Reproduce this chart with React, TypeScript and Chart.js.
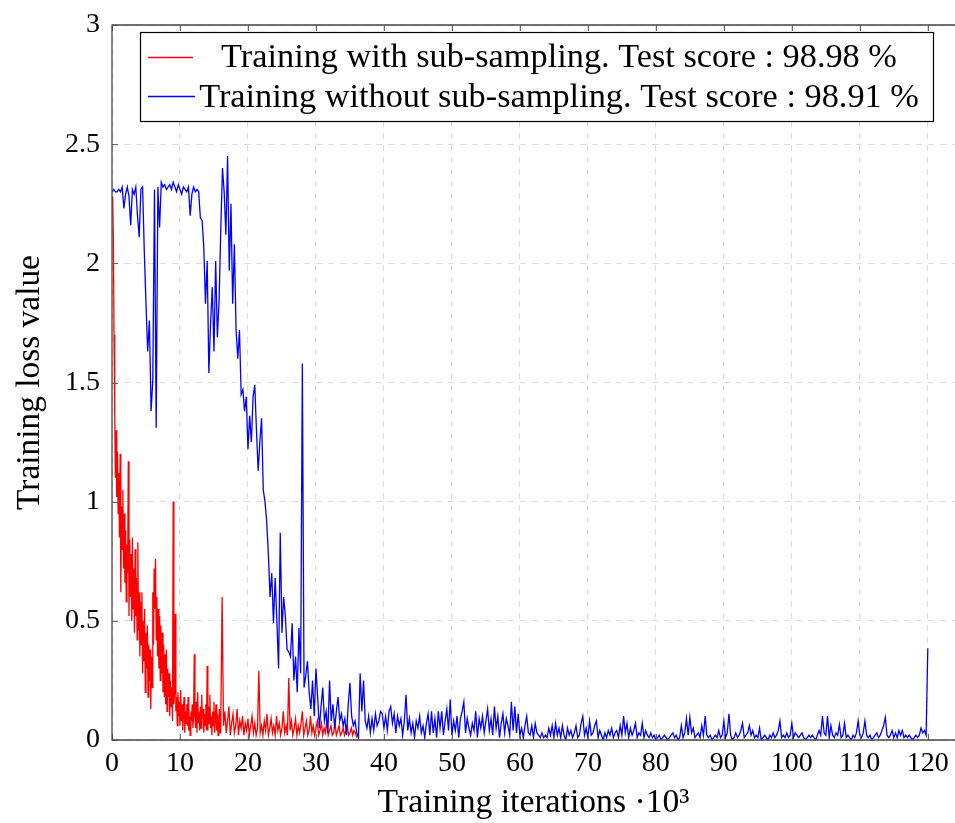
import React, { useEffect, useRef } from "react";
import { Chart, registerables } from "chart.js";

Chart.register(...registerables);

const FONT = '"Liberation Serif", "Times New Roman", serif';

// ---- text ----
const legendLabels = [
  "Training with sub-sampling. Test score : 98.98 %",
  "Training without sub-sampling. Test score : 98.91 %",
];
const xAxisTitle = "Training iterations ·10³";
const yAxisTitle = "Training loss value";

// ---- ticks ----
const xTickValues = [0, 10, 20, 30, 40, 50, 60, 70, 80, 90, 100, 110, 120];
const yTickValues = [0, 0.5, 1, 1.5, 2, 2.5, 3];
const xMax = 124;
const yMax = 3;

// ---- red series: training with sub-sampling (iterations in thousands) ----
const redSegmentStartsK = [0.1, 16.2];
const redSegmentStepsK = [0.1, 0.2];
const redLoss0to16 = [
  2.28, 2.1, 1.7, 1.37, 1.1, 1.3, 1.02, 1.21, 0.95, 1.12,
  0.85, 1.2, 0.62, 0.98, 0.8, 1.05, 0.72, 0.95, 0.66, 0.88,
  0.58, 0.82, 0.7, 1.17, 0.52, 0.84, 0.6, 0.78, 0.5, 0.85,
  0.55, 0.72, 0.45, 0.8, 0.52, 0.68, 0.42, 0.83, 0.46, 0.62,
  0.35, 0.58, 0.4, 0.62, 0.28, 0.5, 0.33, 0.55, 0.2, 0.45,
  0.3, 0.48, 0.18, 0.4, 0.25, 0.38, 0.13, 0.35, 0.22, 0.62,
  0.4, 0.72, 0.55, 0.76, 0.42, 0.6, 0.35, 0.55, 0.3, 0.52,
  0.25, 0.48, 0.28, 0.45, 0.2, 0.4, 0.18, 0.36, 0.15, 0.38,
  0.12, 0.3, 0.18, 0.28, 0.1, 0.25, 0.14, 0.22, 0.08, 1.0,
  0.15, 0.2, 0.53, 0.12, 0.18, 0.06, 0.2, 0.1, 0.16, 0.06,
  0.21, 0.08, 0.15, 0.04, 0.12, 0.18, 0.03, 0.12, 0.07, 0.15,
  0.06, 0.18, 0.04, 0.1, 0.02, 0.12, 0.08, 0.15, 0.05, 0.1,
  0.36, 0.1, 0.05, 0.16, 0.03, 0.2, 0.07, 0.12, 0.04, 0.14,
  0.05, 0.19, 0.09, 0.13, 0.03, 0.11, 0.06, 0.15, 0.04, 0.31,
  0.04, 0.14, 0.07, 0.19, 0.05, 0.1, 0.02, 0.12, 0.06, 0.16,
  0.03, 0.09, 0.15, 0.04, 0.11, 0.02, 0.08, 0.13, 0.03, 0.07,
];
const redLoss16to36 = [
  0.6, 0.06, 0.12, 0.03, 0.08, 0.14, 0.02, 0.07, 0.11, 0.03,
  0.06, 0.13, 0.02, 0.08, 0.05, 0.1, 0.02, 0.07, 0.04, 0.09,
  0.02, 0.06, 0.1, 0.03, 0.07, 0.02, 0.05, 0.29, 0.03, 0.06,
  0.02, 0.08, 0.04, 0.11, 0.02, 0.05, 0.09, 0.03, 0.06, 0.02,
  0.1, 0.04, 0.07, 0.02, 0.05, 0.12, 0.03, 0.06, 0.02, 0.26,
  0.04, 0.08, 0.02, 0.05, 0.09, 0.02, 0.06, 0.03, 0.07, 0.12,
  0.02, 0.05, 0.08, 0.02, 0.04, 0.1, 0.03, 0.06, 0.02, 0.05,
  0.08, 0.02, 0.04, 0.07, 0.02, 0.05, 0.03, 0.08, 0.02, 0.04,
  0.06, 0.02, 0.03, 0.07, 0.02, 0.04, 0.06, 0.02, 0.03, 0.05,
  0.02, 0.04, 0.06, 0.02, 0.03, 0.05, 0.02, 0.04, 0.03, 0.01,
];
const redSegments = [redLoss0to16, redLoss16to36];

// ---- blue series: training without sub-sampling, in segments ----
const blueStepK = 0.25;
const blueSegmentStartsK = [0, 20.25, 38.25, 60.25, 80.25];
const blueLoss0to20 = [
  2.3, 2.31, 2.3, 2.3, 2.31, 2.3, 2.32, 2.23, 2.29, 2.32,
  2.28, 2.16, 2.31, 2.29, 2.32, 2.2, 2.11, 2.31, 2.32, 2.05,
  1.83, 1.63, 1.76, 1.38, 1.51, 2.31, 1.31, 2.32, 2.15, 2.34,
  2.32, 2.33, 2.31, 2.32, 2.33, 2.31, 2.34, 2.32, 2.3, 2.33,
  2.31, 2.29, 2.32, 2.31, 2.3, 2.32, 2.2, 2.29, 2.32, 2.3,
  2.31, 2.3, 2.19, 2.18, 2.07, 1.83, 2.01, 1.54, 1.75, 1.9,
  1.63, 2.01, 1.69, 1.84, 2.14, 2.4, 2.3, 2.12, 2.45, 1.97,
  2.25, 1.83, 2.08, 1.72, 1.6, 1.72, 1.45, 1.47, 1.38, 1.44,
  1.22,
];
const blueLoss20to38 = [
  1.36, 1.25, 1.44, 1.49, 1.3, 1.13, 1.25, 1.35, 1.05, 1.0,
  0.92, 0.78, 0.6, 0.7, 0.49, 0.68, 0.5, 0.3, 0.87, 0.45,
  0.6, 0.52, 0.38, 0.37, 0.35, 0.49, 0.25, 0.35, 0.2, 0.47,
  0.28, 1.58, 0.22, 0.27, 0.33, 0.2, 0.13, 0.25, 0.1, 0.3,
  0.18, 0.05, 0.14, 0.22, 0.08, 0.12, 0.03, 0.25, 0.08, 0.15,
  0.05, 0.12, 0.18, 0.08, 0.11, 0.06, 0.09, 0.02, 0.15, 0.24,
  0.1, 0.06, 0.08, 0.03, 0.01, 0.28, 0.12, 0.25, 0.08, 0.05,
  0.1, 0.03,
];
const blueLoss38to60 = [
  0.09, 0.04, 0.11, 0.06, 0.08, 0.12, 0.11, 0.05, 0.1, 0.04,
  0.12, 0.14, 0.07, 0.11, 0.03, 0.1, 0.06, 0.09, 0.02, 0.08,
  0.19, 0.04, 0.09, 0.03, 0.07, 0.01, 0.08, 0.05, 0.1, 0.03,
  0.06, 0.01, 0.07, 0.11, 0.02, 0.12, 0.03, 0.09, 0.01, 0.12,
  0.05, 0.12, 0.02, 0.08, 0.13, 0.04, 0.17, 0.02, 0.08, 0.04,
  0.1, 0.01, 0.09, 0.12, 0.16, 0.03, 0.09, 0.05, 0.02, 0.07,
  0.04, 0.12, 0.01, 0.09, 0.05, 0.1, 0.03, 0.08, 0.13, 0.04,
  0.09, 0.02, 0.14, 0.05, 0.1, 0.01, 0.07, 0.11, 0.03, 0.09,
  0.06, 0.02, 0.16, 0.04, 0.14, 0.03, 0.11, 0.02,
];
const blueLoss60to80 = [
  0.05, 0.01, 0.06, 0.1, 0.03, 0.02, 0.06, 0.01, 0.07, 0.03,
  0.02, 0.01, 0.03, 0.01, 0.02, 0.01, 0.05, 0.02, 0.06, 0.01,
  0.07, 0.02, 0.05, 0.01, 0.06, 0.02, 0.0, 0.05, 0.02, 0.04,
  0.01, 0.03, 0.06, 0.01, 0.02, 0.07, 0.1, 0.02, 0.05, 0.01,
  0.08, 0.02, 0.03, 0.06, 0.08, 0.01, 0.04, 0.02, 0.0, 0.03,
  0.01, 0.04, 0.02, 0.05, 0.01, 0.03, 0.04, 0.01, 0.06, 0.02,
  0.1, 0.03, 0.07, 0.01, 0.05, 0.02, 0.04, 0.07, 0.01, 0.03,
  0.02, 0.07, 0.01, 0.04, 0.02, 0.01, 0.03, 0.01, 0.02, 0.0,
];
const blueLoss80to120 = [
  0.01, 0.02, 0.0, 0.01, 0.02, 0.01, 0.0, 0.01, 0.02, 0.03,
  0.01, 0.02, 0.0, 0.01, 0.06, 0.01, 0.03, 0.09, 0.02, 0.095,
  0.03, 0.05, 0.01, 0.02, 0.03, 0.01, 0.06, 0.02, 0.1, 0.02,
  0.01, 0.02, 0.0, 0.01, 0.02, 0.01, 0.04, 0.01, 0.02, 0.08,
  0.01, 0.03, 0.11, 0.02, 0.0, 0.01, 0.03, 0.01, 0.02, 0.04,
  0.07, 0.01, 0.02, 0.03, 0.06, 0.02, 0.04, 0.01, 0.02, 0.01,
  0.05, 0.0, 0.01, 0.02, 0.01, 0.0, 0.02, 0.01, 0.03, 0.01,
  0.02, 0.04, 0.08, 0.01, 0.02, 0.01, 0.03, 0.01, 0.02, 0.07,
  0.01, 0.03, 0.02, 0.01, 0.02, 0.03, 0.01, 0.0, 0.01, 0.02,
  0.01, 0.02, 0.01, 0.0, 0.02, 0.04, 0.02, 0.1, 0.03, 0.02,
  0.1, 0.01, 0.06, 0.02, 0.01, 0.03, 0.02, 0.065, 0.01, 0.02,
  0.07, 0.01, 0.02, 0.01, 0.0, 0.02, 0.01, 0.03, 0.08, 0.02,
  0.01, 0.03, 0.08, 0.02, 0.01, 0.02, 0.0, 0.01, 0.02, 0.03,
  0.01, 0.02, 0.04, 0.06, 0.095, 0.02, 0.01, 0.02, 0.04, 0.01,
  0.03, 0.01, 0.04, 0.02, 0.04, 0.01, 0.02, 0.01, 0.02, 0.01,
  0.0, 0.01, 0.02, 0.01, 0.02, 0.05, 0.03, 0.04, 0.02, 0.385,
];
const blueSegments = [blueLoss0to20, blueLoss20to38, blueLoss38to60, blueLoss60to80, blueLoss80to120];

const redColor = "#ff0000";
const blueColor = "#0000ff";

function fitFontSize(text: string, targetWidth: number): number {
  const c = document.createElement("canvas").getContext("2d")!;
  const base = 40;
  c.font = `${base}px ${FONT}`;
  const w = c.measureText(text).width;
  return (base * targetWidth) / w;
}

export default function App() {
  const ref = useRef<HTMLCanvasElement>(null);

  useEffect(() => {
    const canvas = ref.current!;
    const redPoints = redSegments.flatMap((seg, s) =>
      seg.map((v, j) => ({ x: redSegmentStartsK[s] + j * redSegmentStepsK[s], y: v }))
    );
    const bluePoints = blueSegments.flatMap((seg, s) =>
      seg.map((v, j) => ({ x: blueSegmentStartsK[s] + j * blueStepK, y: v }))
    );

    const xTitleSize = fitFontSize(xAxisTitle, 312);
    const yTitleSize = fitFontSize(yAxisTitle, 255);
    const legendSize = fitFontSize(legendLabels[1], 720);

    const framePlugin = {
      id: "frame",
      afterDatasetsDraw(chart: any) {
        const { ctx, chartArea, scales } = chart;
        const { left, right, top, bottom } = chartArea;
        ctx.save();
        ctx.strokeStyle = "#666";
        ctx.lineWidth = 1;
        ctx.beginPath();
        yTickValues.forEach((v) => {
          const py = Math.round(scales.y.getPixelForValue(v)) + 0.5;
          ctx.moveTo(left, py);
          ctx.lineTo(left + 6, py);
        });
        xTickValues.forEach((v) => {
          const px = Math.round(scales.x.getPixelForValue(v)) + 0.5;
          ctx.moveTo(px, bottom);
          ctx.lineTo(px, bottom - 6);
          ctx.moveTo(px, top);
          ctx.lineTo(px, top + 6);
        });
        ctx.stroke();
        ctx.strokeStyle = "#444";
        ctx.lineWidth = 1.3;
        ctx.beginPath();
        ctx.moveTo(right + 2, top);
        ctx.lineTo(left, top);
        ctx.lineTo(left, bottom);
        ctx.lineTo(right + 2, bottom);
        ctx.stroke();
        ctx.restore();
      },
    };

    const legendPlugin = {
      id: "boxLegend",
      afterDraw(chart: any) {
        const ctx = chart.ctx as CanvasRenderingContext2D;
        ctx.save();
        const bx = 140.5, by = 32.5, bw = 793, bh = 89;
        ctx.fillStyle = "#fff";
        ctx.fillRect(bx, by, bw, bh);
        ctx.strokeStyle = "#000";
        ctx.lineWidth = 1.2;
        ctx.strokeRect(bx, by, bw, bh);
        const rows = [
          { color: redColor, y: 57.5, x2: 193, base: 67 },
          { color: blueColor, y: 96.5, x2: 195, base: 106.5 },
        ];
        rows.forEach((r, i) => {
          ctx.strokeStyle = r.color;
          ctx.lineWidth = 1.4;
          ctx.beginPath();
          ctx.moveTo(148, r.y);
          ctx.lineTo(r.x2, r.y);
          ctx.stroke();
          ctx.fillStyle = "#000";
          ctx.font = `${legendSize}px ${FONT}`;
          ctx.textAlign = "center";
          ctx.textBaseline = "alphabetic";
          ctx.fillText(legendLabels[i], 559, r.base);
        });
        ctx.restore();
      },
    };

    const chart = new Chart(canvas, {
      type: "line",
      data: {
        datasets: [
          {
            label: legendLabels[0],
            data: redPoints,
            borderColor: redColor,
            borderWidth: 1.3,
            pointRadius: 0,
            tension: 0,
            fill: false,
            order: 1,
          },
          {
            label: legendLabels[1],
            data: bluePoints,
            borderColor: blueColor,
            borderWidth: 1.3,
            pointRadius: 0,
            tension: 0,
            fill: false,
            order: 0,
          },
        ],
      },
      options: {
        animation: false,
        responsive: false,
        events: [],
        layout: { padding: { top: 25, right: 0, left: 0, bottom: 0 } },
        plugins: {
          legend: { display: false },
          tooltip: { enabled: false },
          title: { display: false },
        },
        scales: {
          x: {
            type: "linear",
            min: 0,
            max: xMax,
            afterBuildTicks: (s: any) => {
              s.ticks = xTickValues.map((v) => ({ value: v }));
            },
            afterFit: (s: any) => {
              s.height = 83;
              s.paddingLeft = 0;
              s.paddingRight = 0;
            },
            ticks: {
              autoSkip: false,
              maxRotation: 0,
              padding: 7,
              color: "#000",
              font: { family: FONT, size: 28 },
              callback: (v: any) => String(v),
            },
            grid: { color: "#dedede", lineWidth: 1, drawTicks: false },
            border: { display: false, dash: [6, 6] },
            title: {
              display: true,
              text: xAxisTitle,
              color: "#000",
              font: { family: FONT, size: xTitleSize, lineHeight: 1 },
              padding: { top: 0, bottom: 3 },
            },
          },
          y: {
            type: "linear",
            min: 0,
            max: yMax,
            afterBuildTicks: (s: any) => {
              s.ticks = yTickValues.map((v) => ({ value: v }));
            },
            afterFit: (s: any) => {
              s.width = 112;
              s.paddingTop = 0;
              s.paddingBottom = 0;
            },
            ticks: {
              padding: 12,
              color: "#000",
              font: { family: FONT, size: 28 },
              callback: (v: any) => String(v),
            },
            grid: { color: "#dedede", lineWidth: 1, drawTicks: false },
            border: { display: false, dash: [6, 6] },
            title: {
              display: true,
              text: yAxisTitle,
              color: "#000",
              font: { family: FONT, size: yTitleSize, lineHeight: 1 },
              padding: { top: 14, bottom: 0 },
            },
          },
        },
      },
      plugins: [framePlugin, legendPlugin],
    });

    return () => chart.destroy();
  }, []);

  return (
    <div style={{ position: "fixed", left: 0, top: 0, width: 955, height: 823, background: "#fff" }}>
      <canvas ref={ref} width={955} height={823} style={{ display: "block", width: 955, height: 823 }} />
    </div>
  );
}
